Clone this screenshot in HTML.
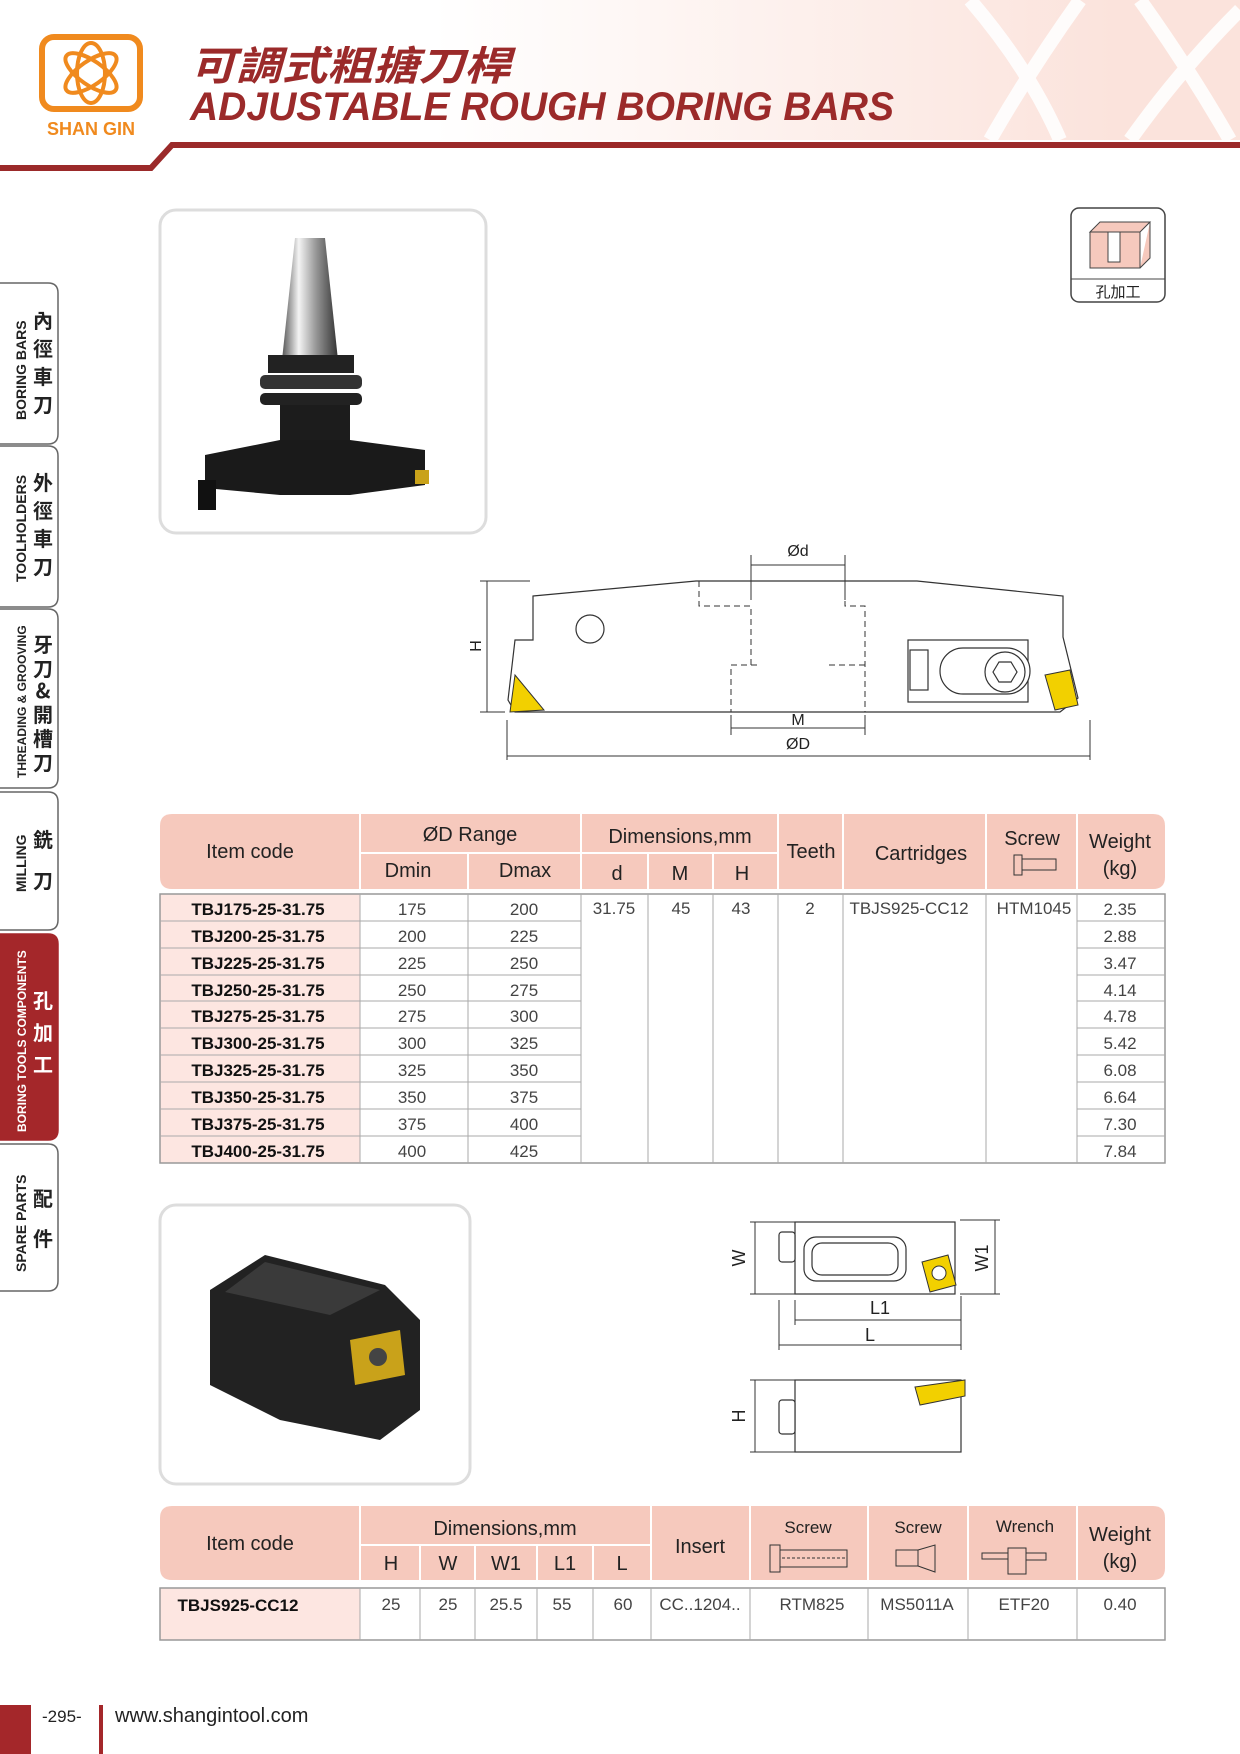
<!DOCTYPE html>
<html><head><meta charset="utf-8"><style>
body{margin:0;background:#fff}
svg{display:block}
.n{font-family:"Liberation Sans Narrow","Liberation Sans","Noto Sans CJK TC",sans-serif}
</style></head><body>
<svg width="1240" height="1754" viewBox="0 0 1240 1754" xmlns="http://www.w3.org/2000/svg" font-family="Liberation Sans, Noto Sans CJK TC, sans-serif">
<defs>
<linearGradient id="hg" x1="0" x2="1"><stop offset="0.35" stop-color="#fff"/><stop offset="0.9" stop-color="#fbe3dc"/></linearGradient>
<linearGradient id="cone" x1="0" x2="1"><stop offset="0" stop-color="#555"/><stop offset="0.3" stop-color="#f4f4f4"/><stop offset="0.6" stop-color="#999"/><stop offset="1" stop-color="#333"/></linearGradient>
</defs>
<!-- header -->
<rect x="0" y="0" width="1240" height="140" fill="url(#hg)"/>
<g stroke="#fff" stroke-width="14" fill="none" opacity="0.9">
<path d="M970 0 Q1030 70 1060 140"/><path d="M1080 0 Q1030 70 990 140"/>
<path d="M1140 0 Q1190 70 1230 140"/><path d="M1240 10 Q1180 70 1130 140"/>
</g>
<path d="M0 168 L151 168 L172 145 L1240 145" stroke="#9b2a2a" stroke-width="6" fill="none"/>
<rect x="42" y="37" width="98" height="72" rx="12" fill="none" stroke="#f08a1e" stroke-width="6"/>
<g stroke="#f08a1e" stroke-width="4" fill="none">
<ellipse cx="91" cy="73" rx="14" ry="30"/><ellipse cx="91" cy="73" rx="30" ry="12" transform="rotate(35 91 73)"/><ellipse cx="91" cy="73" rx="30" ry="12" transform="rotate(-35 91 73)"/>
</g>
<text x="91" y="135" text-anchor="middle" font-size="18" font-weight="bold" fill="#f08a1e">SHAN GIN</text>
<text x="190" y="80" font-size="40" font-weight="bold" font-style="italic" fill="#9b2a2a" font-family="Noto Sans CJK TC, sans-serif" textLength="320" lengthAdjust="spacingAndGlyphs">可調式粗搪刀桿</text>
<text x="190" y="120" font-size="40" font-weight="bold" font-style="italic" fill="#9b2a2a" textLength="704" lengthAdjust="spacingAndGlyphs">ADJUSTABLE ROUGH BORING BARS</text>

<!-- side tabs -->
<g font-size="14" font-weight="bold">
<path d="M0 283 H48 Q58 283 58 293 V434 Q58 444 48 444 H0" fill="#fff" stroke="#666" stroke-width="1.5"/>
<path d="M0 446 H48 Q58 446 58 456 V597 Q58 607 48 607 H0" fill="#fff" stroke="#666" stroke-width="1.5"/>
<path d="M0 609 H48 Q58 609 58 619 V778 Q58 788 48 788 H0" fill="#fff" stroke="#666" stroke-width="1.5"/>
<path d="M0 792 H48 Q58 792 58 802 V920 Q58 930 48 930 H0" fill="#fff" stroke="#666" stroke-width="1.5"/>
<path d="M0 934 H48 Q58 934 58 944 V1130 Q58 1140 48 1140 H0" fill="#a4272a" stroke="#a4272a" stroke-width="1.5"/>
<path d="M0 1144 H48 Q58 1144 58 1154 V1281 Q58 1291 48 1291 H0" fill="#fff" stroke="#666" stroke-width="1.5"/>
<text transform="translate(26 420) rotate(-90)" fill="#222">BORING BARS</text>
<text transform="translate(26 582) rotate(-90)" fill="#222">TOOLHOLDERS</text>
<text transform="translate(26 778) rotate(-90)" font-size="12" fill="#222">THREADING &amp; GROOVING</text>
<text transform="translate(26 892) rotate(-90)" fill="#222">MILLING</text>
<text transform="translate(26 1132) rotate(-90)" font-size="12" fill="#fff">BORING TOOLS COMPONENTS</text>
<text transform="translate(26 1272) rotate(-90)" fill="#222">SPARE PARTS</text>
</g>
<g font-size="20" font-weight="bold" font-family="Noto Sans CJK TC, sans-serif" fill="#222" text-anchor="middle">
<text x="43" y="328">內</text><text x="43" y="356">徑</text><text x="43" y="384">車</text><text x="43" y="412">刀</text>
<text x="43" y="490">外</text><text x="43" y="518">徑</text><text x="43" y="546">車</text><text x="43" y="574">刀</text>
<text x="43" y="652">牙</text><text x="43" y="676">刀</text><text x="43" y="698">&amp;</text><text x="43" y="722">開</text><text x="43" y="746">槽</text><text x="43" y="770">刀</text>
<text x="43" y="847">銑</text><text x="43" y="888">刀</text>
<text x="43" y="1008" fill="#fff">孔</text><text x="43" y="1040" fill="#fff">加</text><text x="43" y="1072" fill="#fff">工</text>
<text x="43" y="1206">配</text><text x="43" y="1246">件</text>
</g>

<!-- photo 1 -->
<rect x="160" y="210" width="326" height="323" rx="16" fill="#fff" stroke="#ddd" stroke-width="3"/>
<path d="M295 238 L325 238 L338 360 L282 360 Z" fill="url(#cone)"/>
<rect x="268" y="355" width="86" height="18" fill="#222"/>
<rect x="260" y="375" width="102" height="14" rx="5" fill="#333"/>
<rect x="260" y="393" width="102" height="12" rx="5" fill="#222"/>
<rect x="280" y="405" width="70" height="45" fill="#1c1c1c"/>
<path d="M205 455 L280 440 L350 440 L425 450 L425 485 L350 495 L280 495 L205 488 Z" fill="#1a1a1a"/>
<rect x="198" y="480" width="18" height="30" fill="#111"/>
<rect x="415" y="470" width="14" height="14" fill="#c9a21a"/>

<!-- icon -->
<rect x="1071" y="208" width="94" height="94" rx="8" fill="#fff" stroke="#444" stroke-width="1.5"/>
<line x1="1071" y1="279" x2="1165" y2="279" stroke="#444"/>
<path d="M1090 232 L1140 232 L1150 222 L1100 222 Z M1090 232 V268 H1140 V232 M1140 268 L1150 258 V222" fill="#f6c9bd" stroke="#444"/>
<rect x="1108" y="232" width="12" height="30" fill="#fff" stroke="#444"/>
<text x="1118" y="297" text-anchor="middle" font-size="15" font-family="Noto Sans CJK TC, sans-serif" fill="#222">孔加工</text>

<!-- boring bar drawing -->
<g stroke="#333" stroke-width="1.2" fill="#fff">
<path d="M533 596 L696 581 L917 581 L1063 596 L1063 637 L1078 698 L1060 712 L918 712 L515 712 L508 700 L515 640 L533 640 Z"/>
<circle cx="590" cy="629" r="14"/>
<rect x="908" y="640" width="120" height="62" fill="#fff"/>
<rect x="940" y="648" width="90" height="46" rx="23"/>
<circle cx="1005" cy="672" r="20"/>
<path d="M993 672 L999 662 L1011 662 L1017 672 L1011 682 L999 682 Z"/>
<rect x="910" y="650" width="18" height="40"/>
</g>
<path d="M515 675 L544 710 L510 712 Z" fill="#f2d000" stroke="#333"/>
<path d="M1045 675 L1070 670 L1078 705 L1055 710 Z" fill="#f2d000" stroke="#333"/>
<g stroke="#333" stroke-width="1" fill="none" stroke-dasharray="6 4">
<path d="M699 581 V606 H751 V665 H731 V712 M845 581 V606 H865 V665 H865 V712 M865 665 H828 M731 665 H760"/>
</g>
<g stroke="#333" stroke-width="1" fill="none">
<line x1="751" y1="565" x2="845" y2="565"/><line x1="751" y1="555" x2="751" y2="600"/><line x1="845" y1="555" x2="845" y2="600"/>
<line x1="731" y1="728" x2="865" y2="728"/><line x1="731" y1="715" x2="731" y2="735"/><line x1="865" y1="715" x2="865" y2="735"/>
<line x1="507" y1="756" x2="1090" y2="756"/><line x1="507" y1="720" x2="507" y2="760"/><line x1="1090" y1="720" x2="1090" y2="760"/>
<line x1="487" y1="581" x2="487" y2="712"/><line x1="480" y1="581" x2="530" y2="581"/><line x1="480" y1="712" x2="505" y2="712"/>
</g>
<text x="798" y="556" text-anchor="middle" font-size="16" fill="#222">Ød</text>
<text x="798" y="725" text-anchor="middle" font-size="16" fill="#222">M</text>
<text x="798" y="749" text-anchor="middle" font-size="16" fill="#222">ØD</text>
<text transform="translate(481 646) rotate(-90)" text-anchor="middle" font-size="16" fill="#222">H</text>

<!-- table 1 -->
<g class="n">
<path d="M172 814 H1153 Q1165 814 1165 826 V877 Q1165 889 1153 889 H172 Q160 889 160 877 V826 Q160 814 172 814 Z" fill="#f6c9bd"/>
<g stroke="#fff" stroke-width="2">
<line x1="360" y1="814" x2="360" y2="889"/><line x1="581" y1="814" x2="581" y2="889"/><line x1="778" y1="814" x2="778" y2="889"/><line x1="843" y1="814" x2="843" y2="889"/><line x1="986" y1="814" x2="986" y2="889"/><line x1="1077" y1="814" x2="1077" y2="889"/>
<line x1="360" y1="853" x2="778" y2="853"/><line x1="468" y1="853" x2="468" y2="889"/><line x1="648" y1="853" x2="648" y2="889"/><line x1="713" y1="853" x2="713" y2="889"/>
</g>
<g font-size="20" fill="#222" text-anchor="middle">
<text x="250" y="858">Item code</text><text x="470" y="841">ØD Range</text><text x="680" y="843">Dimensions,mm</text>
<text x="408" y="877">Dmin</text><text x="525" y="877">Dmax</text><text x="617" y="880">d</text><text x="680" y="880">M</text><text x="742" y="880">H</text>
<text x="811" y="858">Teeth</text><text x="921" y="860">Cartridges</text><text x="1032" y="845">Screw</text><text x="1120" y="848">Weight</text><text x="1120" y="875">(kg)</text>
</g>
<rect x="1014" y="855" width="8" height="20" fill="none" stroke="#333"/><rect x="1022" y="859" width="34" height="11" fill="none" stroke="#333"/>
<rect x="160" y="894" width="200" height="269" fill="#fde6e1"/>
<rect x="160" y="894" width="1005" height="269" fill="none" stroke="#999" stroke-width="1.5"/>
<g stroke="#aaa" stroke-width="1">
<line x1="360" y1="894" x2="360" y2="1163"/><line x1="468" y1="894" x2="468" y2="1163"/><line x1="581" y1="894" x2="581" y2="1163"/><line x1="648" y1="894" x2="648" y2="1163"/><line x1="713" y1="894" x2="713" y2="1163"/><line x1="778" y1="894" x2="778" y2="1163"/><line x1="843" y1="894" x2="843" y2="1163"/><line x1="986" y1="894" x2="986" y2="1163"/><line x1="1077" y1="894" x2="1077" y2="1163"/>
<path d="M160 921 H581 M1077 921 H1165 M160 948 H581 M1077 948 H1165 M160 975 H581 M1077 975 H1165 M160 1001 H581 M1077 1001 H1165 M160 1028 H581 M1077 1028 H1165 M160 1055 H581 M1077 1055 H1165 M160 1082 H581 M1077 1082 H1165 M160 1109 H581 M1077 1109 H1165 M160 1136 H581 M1077 1136 H1165"/>
</g>
<g font-size="17" fill="#111" text-anchor="middle">
<g font-weight="bold">
<text x="258" y="915">TBJ175-25-31.75</text><text x="258" y="942">TBJ200-25-31.75</text><text x="258" y="969">TBJ225-25-31.75</text><text x="258" y="996">TBJ250-25-31.75</text><text x="258" y="1022">TBJ275-25-31.75</text><text x="258" y="1049">TBJ300-25-31.75</text><text x="258" y="1076">TBJ325-25-31.75</text><text x="258" y="1103">TBJ350-25-31.75</text><text x="258" y="1130">TBJ375-25-31.75</text><text x="258" y="1157">TBJ400-25-31.75</text>
</g>
<g fill="#444">
<text x="412" y="915">175</text><text x="412" y="942">200</text><text x="412" y="969">225</text><text x="412" y="996">250</text><text x="412" y="1022">275</text><text x="412" y="1049">300</text><text x="412" y="1076">325</text><text x="412" y="1103">350</text><text x="412" y="1130">375</text><text x="412" y="1157">400</text>
<text x="524" y="915">200</text><text x="524" y="942">225</text><text x="524" y="969">250</text><text x="524" y="996">275</text><text x="524" y="1022">300</text><text x="524" y="1049">325</text><text x="524" y="1076">350</text><text x="524" y="1103">375</text><text x="524" y="1130">400</text><text x="524" y="1157">425</text>
<text x="614" y="914">31.75</text><text x="681" y="914">45</text><text x="741" y="914">43</text><text x="810" y="914">2</text><text x="909" y="914">TBJS925-CC12</text><text x="1034" y="914">HTM1045</text>
<text x="1120" y="915">2.35</text><text x="1120" y="942">2.88</text><text x="1120" y="969">3.47</text><text x="1120" y="996">4.14</text><text x="1120" y="1022">4.78</text><text x="1120" y="1049">5.42</text><text x="1120" y="1076">6.08</text><text x="1120" y="1103">6.64</text><text x="1120" y="1130">7.30</text><text x="1120" y="1157">7.84</text>
</g></g>
</g>

<!-- photo 2 -->
<rect x="160" y="1205" width="310" height="279" rx="16" fill="#fff" stroke="#ddd" stroke-width="3"/>
<path d="M210 1290 L265 1255 L385 1285 L420 1320 L420 1410 L380 1440 L280 1420 L210 1385 Z" fill="#222"/>
<path d="M265 1262 L380 1290 L330 1315 L225 1292 Z" fill="#3a3a3a"/>
<path d="M350 1340 L400 1330 L405 1375 L355 1385 Z" fill="#c9a21a"/>
<circle cx="378" cy="1357" r="9" fill="#444"/>

<!-- cartridge drawings -->
<g stroke="#333" stroke-width="1.2" fill="#fff">
<rect x="795" y="1222" width="160" height="72"/>
<rect x="804" y="1237" width="102" height="44" rx="12"/>
<rect x="812" y="1243" width="86" height="32" rx="10"/>
<rect x="779" y="1232" width="16" height="30" rx="3"/>
<rect x="795" y="1380" width="166" height="72"/>
<rect x="779" y="1400" width="16" height="34" rx="3"/>
</g>
<path d="M922 1262 L948 1255 L956 1285 L930 1292 Z" fill="#f2d000" stroke="#333"/>
<circle cx="939" cy="1273" r="7" fill="#fff" stroke="#333"/>
<path d="M915 1387 L965 1380 L965 1396 L920 1405 Z" fill="#f2d000" stroke="#333"/>
<g stroke="#333" stroke-width="1" fill="none">
<line x1="755" y1="1222" x2="755" y2="1294"/><line x1="750" y1="1222" x2="795" y2="1222"/><line x1="750" y1="1294" x2="795" y2="1294"/>
<line x1="995" y1="1220" x2="995" y2="1294"/><line x1="960" y1="1220" x2="1000" y2="1220"/><line x1="960" y1="1294" x2="1000" y2="1294"/>
<line x1="795" y1="1320" x2="961" y2="1320"/><line x1="795" y1="1300" x2="795" y2="1325"/><line x1="961" y1="1296" x2="961" y2="1325"/>
<line x1="779" y1="1345" x2="961" y2="1345"/><line x1="779" y1="1300" x2="779" y2="1350"/><line x1="961" y1="1325" x2="961" y2="1350"/>
<line x1="755" y1="1380" x2="755" y2="1452"/><line x1="750" y1="1380" x2="795" y2="1380"/><line x1="750" y1="1452" x2="795" y2="1452"/>
</g>
<g font-size="18" fill="#222" text-anchor="middle">
<text transform="translate(745 1258) rotate(-90)">W</text><text transform="translate(988 1258) rotate(-90)">W1</text>
<text x="880" y="1314">L1</text><text x="870" y="1341">L</text><text transform="translate(745 1416) rotate(-90)">H</text>
</g>

<!-- table 2 -->
<g class="n">
<path d="M172 1506 H1153 Q1165 1506 1165 1518 V1568 Q1165 1580 1153 1580 H172 Q160 1580 160 1568 V1518 Q160 1506 172 1506 Z" fill="#f6c9bd"/>
<g stroke="#fff" stroke-width="2">
<line x1="360" y1="1506" x2="360" y2="1580"/><line x1="651" y1="1506" x2="651" y2="1580"/><line x1="750" y1="1506" x2="750" y2="1580"/><line x1="868" y1="1506" x2="868" y2="1580"/><line x1="968" y1="1506" x2="968" y2="1580"/><line x1="1077" y1="1506" x2="1077" y2="1580"/>
<line x1="360" y1="1545" x2="651" y2="1545"/><line x1="420" y1="1545" x2="420" y2="1580"/><line x1="475" y1="1545" x2="475" y2="1580"/><line x1="537" y1="1545" x2="537" y2="1580"/><line x1="593" y1="1545" x2="593" y2="1580"/>
</g>
<g font-size="20" fill="#222" text-anchor="middle">
<text x="250" y="1550">Item code</text><text x="505" y="1535">Dimensions,mm</text>
<text x="391" y="1570">H</text><text x="448" y="1570">W</text><text x="506" y="1570">W1</text><text x="565" y="1570">L1</text><text x="622" y="1570">L</text>
<text x="700" y="1553">Insert</text><text x="1120" y="1541">Weight</text><text x="1120" y="1568">(kg)</text>
<g font-size="17"><text x="808" y="1533">Screw</text><text x="918" y="1533">Screw</text><text x="1025" y="1532">Wrench</text></g>
</g>
<g stroke="#333" fill="none" stroke-width="1">
<rect x="770" y="1545" width="10" height="27"/><rect x="780" y="1550" width="67" height="17"/><line x1="782" y1="1558" x2="845" y2="1558" stroke-dasharray="3 2"/>
<rect x="896" y="1550" width="22" height="16"/><path d="M918 1550 L935 1545 V1572 L918 1566"/>
<path d="M982 1553 H1008 V1559 H982 Z"/><rect x="1008" y="1548" width="18" height="26"/><path d="M1026 1553 H1046 V1560 H1026"/>
</g>
<rect x="160" y="1588" width="200" height="52" fill="#fde6e1"/>
<rect x="160" y="1588" width="1005" height="52" fill="none" stroke="#999" stroke-width="1.5"/>
<g stroke="#aaa"><path d="M360 1588 V1640 M420 1588 V1640 M475 1588 V1640 M537 1588 V1640 M593 1588 V1640 M651 1588 V1640 M750 1588 V1640 M868 1588 V1640 M968 1588 V1640 M1077 1588 V1640"/></g>
<g font-size="17" fill="#444" text-anchor="middle">
<text x="238" y="1611" font-weight="bold" fill="#111">TBJS925-CC12</text>
<text x="391" y="1610">25</text><text x="448" y="1610">25</text><text x="506" y="1610">25.5</text><text x="562" y="1610">55</text><text x="623" y="1610">60</text>
<text x="700" y="1610">CC..1204..</text><text x="812" y="1610">RTM825</text><text x="917" y="1610">MS5011A</text><text x="1024" y="1610">ETF20</text><text x="1120" y="1610">0.40</text>
</g>
</g>

<!-- footer -->
<rect x="0" y="1705" width="31" height="49" fill="#a4272a"/>
<text x="42" y="1722" font-size="17" fill="#222">-295-</text>
<rect x="99" y="1705" width="4" height="49" fill="#a4272a"/>
<text x="115" y="1722" font-size="20" fill="#222">www.shangintool.com</text>
</svg>
</body></html>
